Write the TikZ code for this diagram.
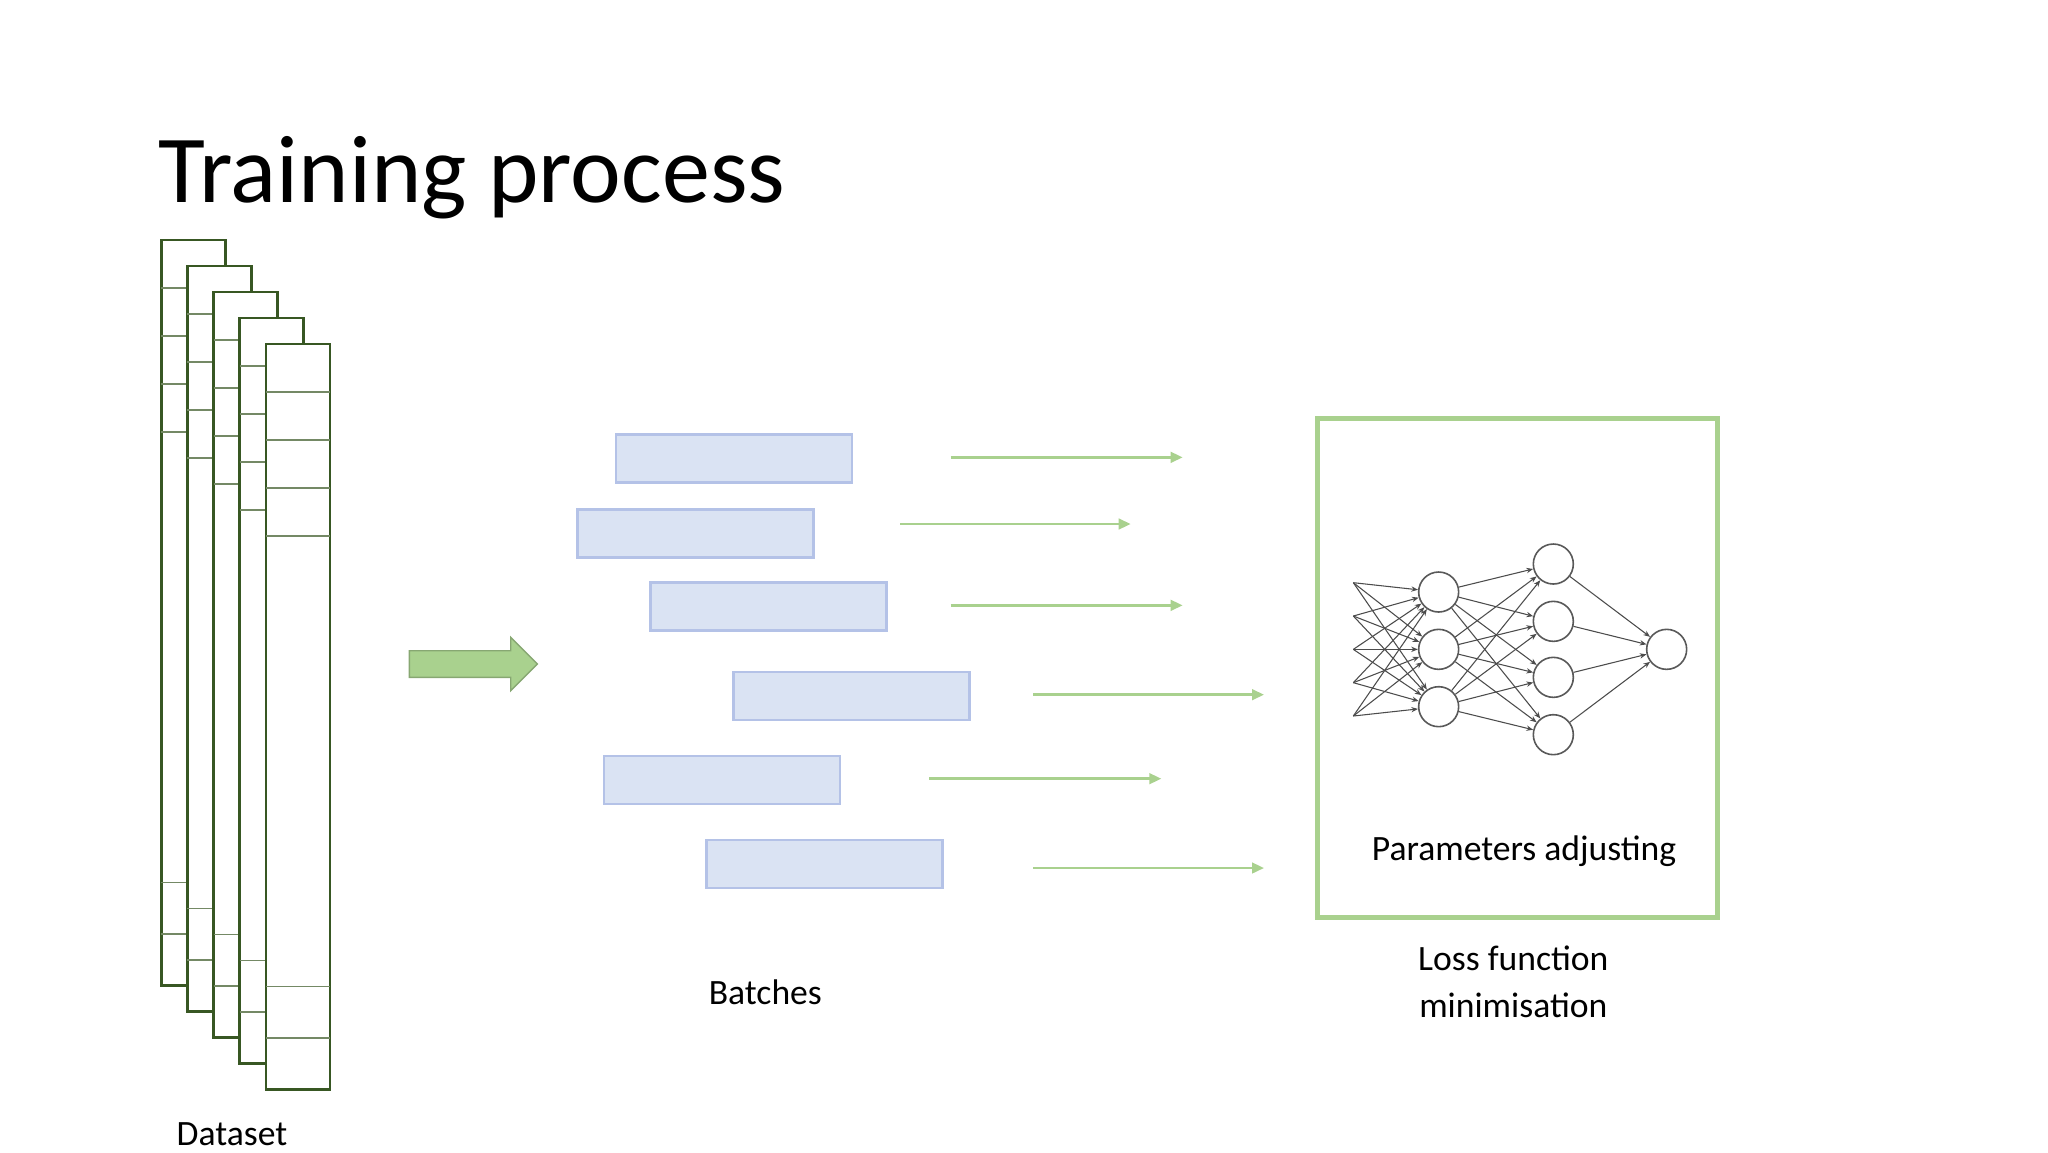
\documentclass[tikz,border=0pt]{standalone}
\usepackage{fontspec}
\setmainfont{Carlito}
\usetikzlibrary{arrows.meta}
\definecolor{dgreen}{HTML}{385723}
\definecolor{lgreen}{HTML}{A9D18E}
\definecolor{bfill}{HTML}{DAE3F3}
\definecolor{bline}{HTML}{B4C2E7}
\begin{document}
\begin{tikzpicture}[x=0.1mm,y=-0.1mm,
  sheet/.style={draw=dgreen,fill=white,line width=0.2mm},
  row/.style={draw=dgreen!70,line width=0.08mm},
  batch/.style={draw=bline,fill=bfill,line width=0.2mm,minimum width=17.7mm,minimum height=3.6mm,anchor=north west,inner sep=0},
  flow/.style={draw=lgreen,line width=0.18mm,-{Triangle[length=0.9mm,width=0.8mm]}},
  neuron/.style={circle,draw=black!65,fill=white,minimum size=3.0mm,inner sep=0,line width=0.12mm},
  syn/.style={draw=black!70,line width=0.08mm,-{Stealth[length=0.5mm,width=0.4mm]}},
  lbl/.style={font=\fontsize{7.6}{10}\selectfont,inner sep=0}]
\useasboundingbox (0,0) rectangle (1536,864);
\node[anchor=base west,inner sep=0,font=\fontsize{20.5}{24}\selectfont] (title) at (118,152) {Training process};
% dataset sheets
\foreach \i in {0,...,4}{
  \pgfmathsetmacro{\xa}{121+19.6*\i}
  \pgfmathsetmacro{\ya}{180+19.5*\i}
  \pgfmathsetmacro{\yb}{739+19.5*\i}
  \draw[sheet] (\xa,\ya) rectangle (\xa+48,\yb);
  \foreach \k in {1,...,4}{\draw[row] (\xa,\ya+36*\k) -- (\xa+48,\ya+36*\k);}
  \foreach \k in {1,2}{\draw[row] (\xa,\yb-38.5*\k) -- (\xa+48,\yb-38.5*\k);}
}
\node[lbl,anchor=base] (ds) at (174,859) {Dataset};
% big arrow
\draw[draw=lgreen!80!black,fill=lgreen,line width=0.1mm] (307,488) -- (383,488) -- (383,478) -- (403,498) -- (383,518) -- (383,508) -- (307,508) -- cycle;
% batches
\node[batch] (b1) at (461,325) {};
\node[batch] (b2) at (432,381) {};
\node[batch] (b3) at (487,436) {};
\node[batch] (b4) at (549,503) {};
\node[batch] (b5) at (452,566) {};
\node[batch] (b6) at (529,629) {};
\node[lbl,anchor=base] (bl) at (574,753) {Batches};
% arrows
\coordinate (s1) at (713,343); \coordinate (e1) at (887,343);
\coordinate (s2) at (675,393); \coordinate (e2) at (848,393);
\coordinate (s3) at (713,454); \coordinate (e3) at (887,454);
\coordinate (s4) at (775,521); \coordinate (e4) at (948,521);
\coordinate (s5) at (697,584); \coordinate (e5) at (871,584);
\coordinate (s6) at (775,651); \coordinate (e6) at (948,651);
\foreach \n in {1,...,6}{\draw[flow] (s\n) -- (e\n);}
% box
\node[draw=lgreen,line width=0.4mm,minimum width=30mm,minimum height=37.4mm,anchor=north west,inner sep=0] (box) at (986,312) {};
\node[lbl,anchor=base] (pa) at (1143,645) {Parameters adjusting};
\node[lbl,anchor=north,align=center] (lf) at (1135,709) {Loss function\\minimisation};
% network
\foreach \j/\y in {1/437,2/462,3/487,4/512,5/537}{\coordinate (i\j) at (1015,\y);}
\foreach \j/\y in {1/444,2/487,3/530}{\node[neuron] (h\j) at (1079,\y) {};}
\foreach \j/\y in {1/423,2/466,3/508,4/551}{\node[neuron] (g\j) at (1165,\y) {};}
\node[neuron] (o) at (1250,487) {};
\foreach \a in {1,...,5}{\foreach \b in {1,2,3}{\draw[syn] (i\a) -- (h\b);}}
\foreach \a in {1,2,3}{\foreach \b in {1,...,4}{\draw[syn] (h\a) -- (g\b);}}
\foreach \a in {1,...,4}{\draw[syn] (g\a) -- (o);}
\end{tikzpicture}
\end{document}
